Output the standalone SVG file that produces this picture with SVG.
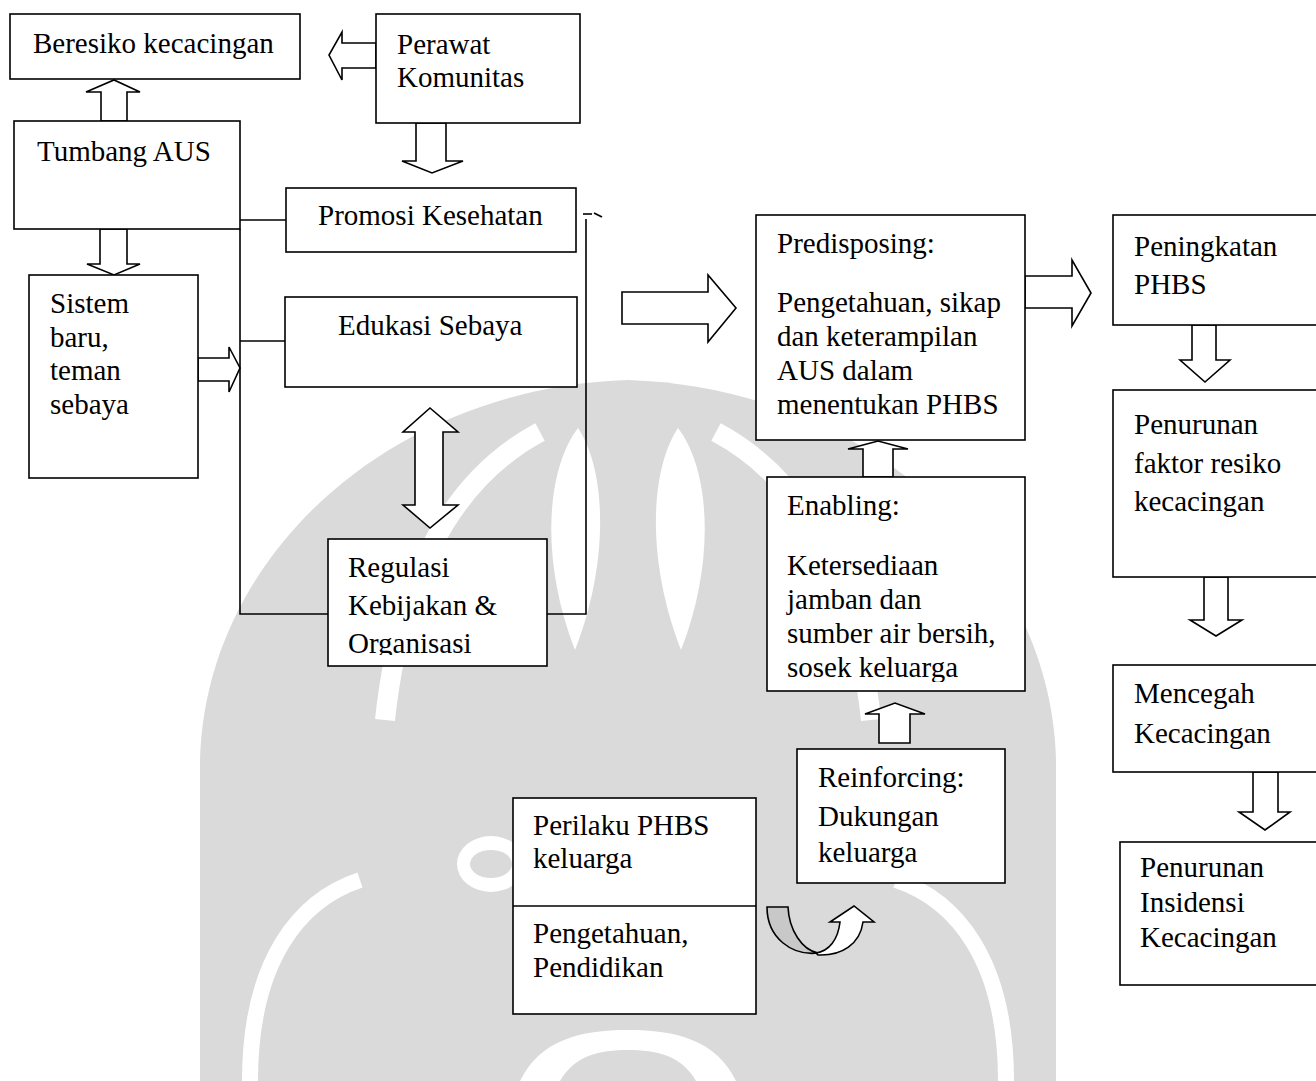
<svg xmlns="http://www.w3.org/2000/svg" width="1316" height="1081" viewBox="0 0 1316 1081">
  <defs>
    <style>
      .box { fill: #fff; stroke: #000; stroke-width: 1.6; }
      .arr { fill: #fff; stroke: #000; stroke-width: 1.6; stroke-linejoin: miter; }
      .ln { fill: none; stroke: #000; stroke-width: 1.6; }
      .wm { fill: #dadada; }
      .wmcut { fill: none; stroke: #fff; }
      text { font-family: "Liberation Serif", "Times New Roman", serif; font-size: 29px; fill: #000; }
    </style>
    <clipPath id="clipReg"><rect x="328" y="539" width="219" height="116"/></clipPath>
    <clipPath id="clipEna"><rect x="767" y="477" width="258" height="205"/></clipPath>
  </defs>

  <rect width="1316" height="1081" fill="#fff"/>

  <!-- background emblem -->
  <g id="watermark">
    <path class="wm" d="M200,1081 L200,760 C205,560 385,388 628,380 C871,388 1051,560 1056,760 L1056,1081 Z"/>
    <path class="wmcut" stroke-width="20" d="M385,720 C400,580 450,480 540,432"/>
    <path class="wmcut" stroke-width="20" d="M871,720 C856,580 806,480 716,432"/>
    <path fill="#fff" d="M578,428 C546,470 540,560 575,650 C610,560 606,470 578,428 Z"/>
    <path fill="#fff" d="M678,428 C710,470 716,560 681,650 C646,560 650,470 678,428 Z"/>
    <path class="wmcut" stroke-width="16" d="M250,1081 C250,960 300,900 360,880"/>
    <path class="wmcut" stroke-width="16" d="M1006,1081 C1006,960 956,900 896,880"/>
    <ellipse cx="491" cy="864" rx="34" ry="28" fill="#fff"/>
    <ellipse cx="491" cy="864" rx="21" ry="14" class="wm"/>
    <path fill="#fff" d="M520,1081 C540,1040 580,1030 628,1030 C676,1030 716,1040 736,1081 Z"/>
    <path class="wm" d="M560,1081 C575,1055 600,1050 628,1050 C656,1050 681,1055 696,1081 Z"/>
  </g>

  <!-- connectors -->
  <g id="connectors">
    <polyline class="ln" points="240,220 286,220"/>
    <polyline class="ln" points="240,229 240,614 328,614"/>
    <polyline class="ln" points="240,341 285,341"/>
    <polyline class="ln" points="547,614 586,614 586,219"/>
    <polyline class="ln" points="583,214 592,214"/>
    <polyline class="ln" points="594,213 602,217"/>

    <polygon class="arr" points="376,43 342,43 342,32 329,55 342,80 342,68 376,68"/>
    <polygon class="arr" points="101,121 101,92 86,92 114,80 140,92 127,92 127,121"/>
    <polygon class="arr" points="416,123 416,161 402,161 432,173 463,161 446,161 446,123"/>
    <polygon class="arr" points="100,229 100,264 87,264 114,275 140,264 127,264 127,229"/>
    <polygon class="arr" points="198,358 229,358 229,347 240,368 229,392 229,381 198,381"/>
    <polygon class="arr" points="430,408 458,432 443,432 443,505 458,505 430,528 403,505 415,505 415,432 403,432"/>
    <polygon class="arr" points="622,292 708,292 708,275 736,308 708,342 708,324 622,324"/>
    <polygon class="arr" points="1025,276 1072,276 1072,260 1091,293 1072,326 1072,308 1025,308"/>
    <polygon class="arr" points="863,477 863,449 848,449 878,441 908,449 893,449 893,477"/>
    <polygon class="arr" points="879,743 879,714 865,714 895,703 925,714 910,714 910,743"/>
    <polygon class="arr" points="1192,325 1192,360 1180,360 1205,382 1230,360 1216,360 1216,325"/>
    <polygon class="arr" points="1204,577 1204,620 1190,620 1216,636 1242,620 1228,620 1228,577"/>
    <polygon class="arr" points="1253,772 1253,812 1239,812 1265,830 1290,812 1278,812 1278,772"/>

    <!-- curved up arrow -->
    <path fill="#c8c8c8" stroke="#000" stroke-width="1.6" d="M767,907 L788,907 C789,930 802,950 818,953 C792,956 767,938 767,907 Z"/>
    <path class="arr" d="M816,953 C829,951 838,940 840,922 L830,922 L854,906 L874,922 L863,922 C860,944 842,956 818,955 Z"/>
  </g>

  <g id="n-beresiko">
    <rect class="box" x="10" y="14" width="290" height="65"/>
    <text x="33" y="53">Beresiko kecacingan</text>
  </g>
  <g id="n-perawat">
    <rect class="box" x="376" y="14" width="204" height="109"/>
    <text x="397" y="54">Perawat</text>
    <text x="397" y="87">Komunitas</text>
  </g>
  <g id="n-tumbang">
    <rect class="box" x="14" y="121" width="226" height="108"/>
    <text x="37" y="161">Tumbang AUS</text>
  </g>
  <g id="n-promosi">
    <rect class="box" x="286" y="188" width="290" height="64"/>
    <text x="318" y="225">Promosi Kesehatan</text>
  </g>
  <g id="n-sistem">
    <rect class="box" x="29" y="275" width="169" height="203"/>
    <text x="50" y="313">Sistem</text>
    <text x="50" y="347">baru,</text>
    <text x="50" y="380">teman</text>
    <text x="50" y="414">sebaya</text>
  </g>
  <g id="n-edukasi">
    <rect class="box" x="285" y="297" width="292" height="90"/>
    <text x="338" y="335">Edukasi Sebaya</text>
  </g>
  <g id="n-regulasi">
    <rect class="box" x="328" y="539" width="219" height="127"/>
    <g clip-path="url(#clipReg)">
      <text x="348" y="577">Regulasi</text>
      <text x="348" y="615">Kebijakan &amp;</text>
      <text x="348" y="653">Organisasi</text>
    </g>
  </g>
  <g id="n-predisposing">
    <rect class="box" x="756" y="215" width="269" height="225"/>
    <text x="777" y="253">Predisposing:</text>
    <text x="777" y="312">Pengetahuan, sikap</text>
    <text x="777" y="346">dan keterampilan</text>
    <text x="777" y="380">AUS dalam</text>
    <text x="777" y="414">menentukan PHBS</text>
  </g>
  <g id="n-enabling">
    <rect class="box" x="767" y="477" width="258" height="214"/>
    <g clip-path="url(#clipEna)">
      <text x="787" y="515">Enabling:</text>
      <text x="787" y="575">Ketersediaan</text>
      <text x="787" y="609">jamban dan</text>
      <text x="787" y="643">sumber air bersih,</text>
      <text x="787" y="677">sosek keluarga</text>
    </g>
  </g>
  <g id="n-reinforcing">
    <rect class="box" x="797" y="749" width="208" height="134"/>
    <text x="818" y="787">Reinforcing:</text>
    <text x="818" y="826">Dukungan</text>
    <text x="818" y="862">keluarga</text>
  </g>
  <g id="n-perilaku">
    <rect class="box" x="513" y="798" width="243" height="216"/>
    <line class="ln" x1="513" y1="906" x2="756" y2="906"/>
    <text x="533" y="835">Perilaku PHBS</text>
    <text x="533" y="868">keluarga</text>
    <text x="533" y="943">Pengetahuan,</text>
    <text x="533" y="977">Pendidikan</text>
  </g>
  <g id="n-peningkatan">
    <rect class="box" x="1113" y="215" width="220" height="110"/>
    <text x="1134" y="256">Peningkatan</text>
    <text x="1134" y="294">PHBS</text>
  </g>
  <g id="n-penurunan">
    <rect class="box" x="1113" y="390" width="220" height="187"/>
    <text x="1134" y="434">Penurunan</text>
    <text x="1134" y="473">faktor resiko</text>
    <text x="1134" y="511">kecacingan</text>
  </g>
  <g id="n-mencegah">
    <rect class="box" x="1113" y="665" width="220" height="107"/>
    <text x="1134" y="703">Mencegah</text>
    <text x="1134" y="743">Kecacingan</text>
  </g>
  <g id="n-insidensi">
    <rect class="box" x="1120" y="842" width="220" height="143"/>
    <text x="1140" y="877">Penurunan</text>
    <text x="1140" y="912">Insidensi</text>
    <text x="1140" y="947">Kecacingan</text>
  </g>
</svg>
